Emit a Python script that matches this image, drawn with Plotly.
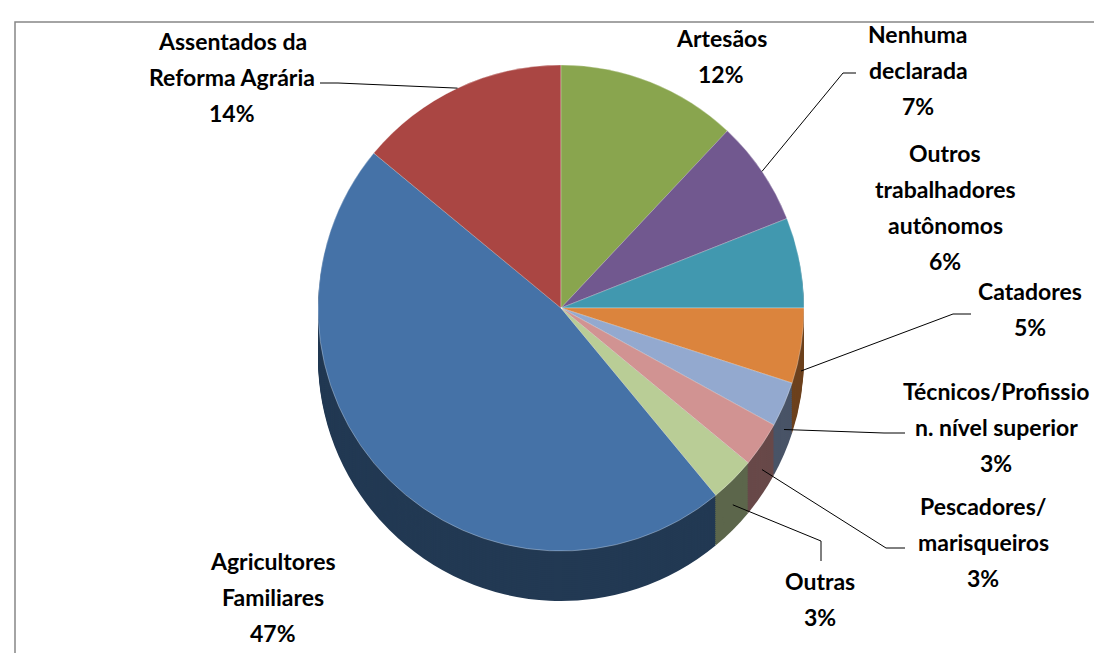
import numpy as np
import plotly.graph_objects as go

# data (percent of participants)
categories = [
    "Agricultores<br>Familiares",
    "Assentados da<br>Reforma Agrária",
    "Artesãos",
    "Nenhuma<br>declarada",
    "Outros<br>trabalhadores<br>autônomos",
    "Catadores",
    "Técnicos/Profissio<br>n. nível superior",
    "Pescadores/<br>marisqueiros",
    "Outras",
]
values = [47, 14, 12, 7, 6, 5, 3, 3, 3]

colors = [
    "#4572A7", "#AA4643", "#89A54E", "#71588F", "#4198AF",
    "#DB843D", "#93A9CF", "#D19392", "#B9CD96",
]

W, H = 1102, 653
CX, CY, R = 553, 300, 243
DEPTH = 50
START = 140.4  # first slice starts here (deg, clockwise from 12 o'clock)


def px(x):
    return x / W


def py(y):
    return 1 - y / H


def darker(hex_color, f=0.5):
    r, g, b = (int(hex_color[i:i + 2], 16) for i in (1, 3, 5))
    return "rgb(%d,%d,%d)" % (r * f, g * f, b * f)


def pie_domain(dy):
    return dict(
        x=[px(CX - R), px(CX + R)],
        y=[py(CY + R + dy), py(CY - R + dy)],
    )


fig = go.Figure()

# the "side" of the 3D pie: stacked darker copies
for dy in range(DEPTH, 0, -2):
    fig.add_trace(
        go.Pie(
            labels=[c.replace("<br>", " ") for c in categories],
            values=values,
            sort=False,
            direction="clockwise",
            rotation=START,
            textinfo="none",
            hoverinfo="skip",
            marker=dict(colors=[darker(c) for c in colors], line=dict(width=0)),
            domain=pie_domain(dy),
            showlegend=False,
        )
    )

fig.add_trace(
    go.Pie(
        labels=[c.replace("<br>", " ") for c in categories],
        values=values,
        sort=False,
        direction="clockwise",
        rotation=START,
        textinfo="none",
        hovertemplate="%{label}: %{value}%<extra></extra>",
        marker=dict(colors=colors, line=dict(color="rgba(255,255,255,0.5)", width=0.6)),
        domain=pie_domain(0),
        showlegend=False,
    )
)

# label placement: centre x, first line y, leader (elbow start, elbow end) or None
label_pos = [
    (265, 560, None),
    (224, 40, ((312, 75), (330, 75))),
    (713, 37, None),
    (910, 33, ((848, 65), (835, 65))),
    (937, 152, None),
    (1022, 290, ((963, 306), (945, 306))),
    (988, 390, ((897, 425), (876, 425))),
    (975, 505, ((897, 540), (878, 540))),
    (812, 580, ((813, 553), (813, 533))),
]

LINE = 36
annotations = []
shapes = []
total = sum(values)
acc = 0
for cat, val, (lx, ly, leader) in zip(categories, values, label_pos):
    lines = cat.split("<br>") + [f"{round(100 * val / total)}%"]
    for i, t in enumerate(lines):
        annotations.append(
            dict(
                x=px(lx), y=py(ly - 7 + i * LINE),
                xref="paper", yref="paper",
                text=t, showarrow=False,
                xanchor="center", yanchor="middle",
                font=dict(family="Lato", size=23, color="#000000", weight="bold"),
            )
        )
    mid = np.radians(START + 360 * (acc + val / 2) / total)
    acc += val
    if leader:
        tx = CX + R * np.sin(mid)
        ty = CY - R * np.cos(mid)
        if np.cos(mid) < 0:
            ty += DEPTH / 2
        (x0, y0), (x1, y1) = leader
        shapes.append(
            dict(
                type="path", xref="paper", yref="paper",
                path=f"M {px(x0)},{py(y0)} L {px(x1)},{py(y1)} L {px(tx)},{py(ty)}",
                line=dict(color="#000000", width=1),
            )
        )

# chart area border
shapes.append(
    dict(
        type="rect", xref="paper", yref="paper",
        x0=px(7), y0=py(700), x1=px(1150), y1=py(14),
        line=dict(color="#868686", width=1.5),
    )
)

fig.update_layout(
    width=W,
    height=H,
    margin=dict(l=0, r=0, t=0, b=0),
    paper_bgcolor="white",
    plot_bgcolor="white",
    annotations=annotations,
    shapes=shapes,
)

fig.write_html("out.html")
